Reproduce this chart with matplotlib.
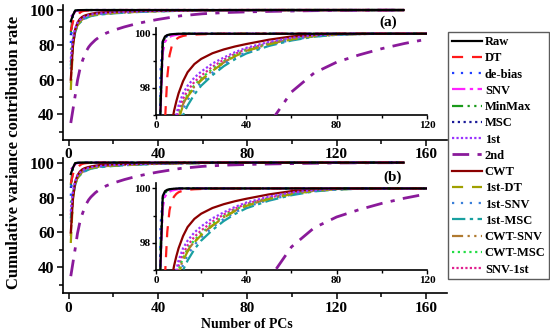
import matplotlib
matplotlib.use('Agg')
import matplotlib.pyplot as plt
from matplotlib.ticker import MultipleLocator

plt.rcParams['font.family'] = ['Liberation Serif', 'DejaVu Serif']
plt.rcParams['font.weight'] = 'bold'

# number of PCs at which the cumulative rate was read
pcs = [1, 2, 3, 4, 5, 6, 7, 8, 9, 10, 12, 14, 17, 20, 25, 30, 35, 40, 50, 60, 70, 80, 90, 100, 110, 120, 135, 150]

raw     = [93.5, 97.2, 99.72, 99.9, 99.95, 99.97, 99.98, 99.99, 99.99, 100,
           100, 100, 100, 100, 100, 100, 100, 100, 100, 100, 100, 100, 100, 100, 100, 100, 100, 100]
dt      = [88.0, 93.5, 96.2, 96.8, 98.4, 99.2, 99.55, 99.7, 99.8, 99.86,
           99.92, 99.95, 99.97, 99.98, 99.99, 100, 100, 100, 100, 100, 100, 100, 100, 100, 100, 100, 100, 100]
debias  = [81.0, 98.6, 99.7, 99.88, 99.94, 99.97, 99.98, 99.99, 99.99, 100,
           100, 100, 100, 100, 100, 100, 100, 100, 100, 100, 100, 100, 100, 100, 100, 100, 100, 100]
snv     = [96.2, 97.1, 99.3, 99.7, 99.82, 99.88, 99.92, 99.94, 99.96, 99.97,
           99.98, 99.99, 100, 100, 100, 100, 100, 100, 100, 100, 100, 100, 100, 100, 100, 100, 100, 100]
minmax  = [87.0, 97.8, 99.65, 99.86, 99.93, 99.96, 99.97, 99.98, 99.99, 99.99,
           100, 100, 100, 100, 100, 100, 100, 100, 100, 100, 100, 100, 100, 100, 100, 100, 100, 100]
msc     = [85.5, 97.5, 99.6, 99.84, 99.92, 99.96, 99.97, 99.98, 99.99, 99.99,
           100, 100, 100, 100, 100, 100, 100, 100, 100, 100, 100, 100, 100, 100, 100, 100, 100, 100]
d1      = [72.0, 84.0, 89.5, 92.5, 94.2, 95.3, 96.1, 96.6, 97.0, 97.35,
           97.8, 98.08, 98.38, 98.6, 98.9, 99.12, 99.32, 99.48, 99.7, 99.85, 99.94, 99.98, 99.99, 100, 100, 100, 100, 100]
d2      = [35.0, 43.0, 51.0, 59.5, 65.5, 70.0, 73.5, 76.5, 78.7, 80.3,
           82.8, 84.7, 86.8, 88.3, 90.3, 92.0, 93.4, 94.6, 96.65, 97.85, 98.55, 98.95, 99.22, 99.45, 99.64, 99.8, 99.92, 99.97]
cwt     = [60.0, 80.0, 89.0, 92.8, 94.8, 96.0, 96.7, 97.15, 97.5, 97.8,
           98.25, 98.58, 98.88, 99.07, 99.28, 99.42, 99.53, 99.62, 99.78, 99.9, 99.97, 100, 100, 100, 100, 100, 100, 100]
d1_dt   = [54.0, 80.0, 88.0, 91.3, 93.1, 94.3, 95.2, 95.9, 96.45, 96.85,
           97.35, 97.68, 98.02, 98.28, 98.63, 98.93, 99.17, 99.36, 99.61, 99.79, 99.91, 99.97, 99.99, 100, 100, 100, 100, 100]
d1_snv  = [66.0, 81.0, 87.8, 91.0, 92.9, 94.1, 95.0, 95.7, 96.25, 96.7,
           97.2, 97.55, 97.92, 98.2, 98.56, 98.88, 99.12, 99.32, 99.58, 99.77, 99.9, 99.96, 99.99, 100, 100, 100, 100, 100]
d1_msc  = [68.0, 81.0, 87.5, 90.7, 92.6, 93.8, 94.7, 95.4, 96.0, 96.5,
           97.0, 97.35, 97.76, 98.08, 98.47, 98.8, 99.06, 99.27, 99.55, 99.75, 99.89, 99.96, 99.99, 100, 100, 100, 100, 100]
cwt_snv = [58.0, 80.0, 88.0, 91.4, 93.2, 94.4, 95.3, 95.95, 96.5, 96.9,
           97.4, 97.72, 98.05, 98.3, 98.64, 98.94, 99.18, 99.37, 99.62, 99.8, 99.92, 99.97, 99.99, 100, 100, 100, 100, 100]
cwt_msc = [77.0, 83.0, 88.6, 91.6, 93.4, 94.6, 95.5, 96.1, 96.6, 97.0,
           97.45, 97.77, 98.1, 98.35, 98.7, 98.98, 99.22, 99.4, 99.64, 99.81, 99.92, 99.97, 99.99, 100, 100, 100, 100, 100]
snv_d1  = [70.0, 83.0, 89.0, 92.0, 93.8, 94.9, 95.75, 96.3, 96.75, 97.15,
           97.6, 97.9, 98.22, 98.45, 98.78, 99.04, 99.26, 99.43, 99.66, 99.83, 99.93, 99.98, 99.99, 100, 100, 100, 100, 100]

labels = ['Raw', 'DT', 'de-bias', 'SNV', 'MinMax', 'MSC', '1st', '2nd', 'CWT',
          '1st-DT', '1st-SNV', '1st-MSC', 'CWT-SNV', 'CWT-MSC', 'SNV-1st']
series = [raw, dt, debias, snv, minmax, msc, d1, d2, cwt,
          d1_dt, d1_snv, d1_msc, cwt_snv, cwt_msc, snv_d1]

styles = [
    dict(color='black', ls='-', lw=1.6),
    dict(color='#ff1a1a', ls=(0, (5, 4)), lw=1.6),
    dict(color='#1f3fff', ls=(0, (1, 3)), lw=1.6),
    dict(color='#ff22ff', ls=(0, (6, 2, 1.5, 2)), lw=1.6),
    dict(color='#1a9a1a', ls=(0, (5, 2, 1, 2, 1, 2)), lw=1.6),
    dict(color='#1a1a99', ls=(0, (1, 1.6)), lw=1.6),
    dict(color='#9a33ff', ls=(0, (1, 1)), lw=1.6),
    dict(color='#8a1a9a', ls=(0, (6, 3, 1.5, 3)), lw=2.0),
    dict(color='#8b0000', ls='-', lw=1.6),
    dict(color='#a0a000', ls=(0, (5, 4)), lw=1.6),
    dict(color='#3a7fd9', ls=(0, (1, 3)), lw=1.6),
    dict(color='#19a0a0', ls=(0, (6, 2, 1.5, 2)), lw=1.6),
    dict(color='#b07a30', ls=(0, (5, 2, 1, 2, 1, 2)), lw=1.6),
    dict(color='#22dd44', ls=(0, (1, 1.6)), lw=1.6),
    dict(color='#e0208f', ls=(0, (1, 1)), lw=1.6),
]

fig = plt.figure(figsize=(5.5, 3.36), dpi=100)


def style_axes(ax, inset=False):
    for s in ['top', 'right']:
        ax.spines[s].set_visible(False)
    for s in ['left', 'bottom']:
        ax.spines[s].set_linewidth(1.2)
    ax.xaxis.set_major_locator(MultipleLocator(40))
    ax.xaxis.set_minor_locator(MultipleLocator(20))
    if inset:
        ax.yaxis.set_major_locator(MultipleLocator(2))
        ax.yaxis.set_minor_locator(MultipleLocator(1))
        ax.tick_params(which='major', length=3, width=1, labelsize=8, pad=1)
        ax.tick_params(which='minor', length=2, width=1)
    else:
        ax.yaxis.set_major_locator(MultipleLocator(20))
        ax.yaxis.set_minor_locator(MultipleLocator(10))
        ax.tick_params(which='major', length=4, width=1.1, pad=2)
        ax.tick_params(which='minor', length=3, width=1.1)
        ax.tick_params(axis='x', labelsize=11)
        ax.tick_params(axis='y', labelsize=12)


main_pos = [[0.1145, 0.5833, 0.698, 0.4018], [0.1145, 0.1271, 0.698, 0.404]]
inset_pos = [[0.2836, 0.6577, 0.4927, 0.258], [0.2836, 0.1964, 0.4927, 0.259]]
panel_txt = [('(a)', 0.705, 0.935), ('(b)', 0.713, 0.473)]

handles = []
for p in range(2):
    ax = fig.add_axes(main_pos[p])
    ins = fig.add_axes(inset_pos[p])
    for k, (y, st) in enumerate(zip(series, styles)):
        h, = ax.plot(pcs, y, label=labels[k], zorder=20 - k, **st)
        ins.plot(pcs, y, zorder=20 - k, **st)
        if p == 0:
            handles.append(h)
    ax.set_xlim(-2.5, 169.4)
    ax.set_ylim(25.2, 102.9)
    ins.set_xlim(0, 120)
    ins.set_ylim(97.0, 100.2)
    style_axes(ax)
    style_axes(ins, inset=True)
    fig.text(panel_txt[p][1], panel_txt[p][2], panel_txt[p][0], fontsize=11,
             ha='center', va='center')

fig.legend(handles=handles, loc='upper left', bbox_to_anchor=(0.8145, 0.904),
           fontsize=9, frameon=True, fancybox=False, edgecolor='#333333',
           handlelength=2.4, handletextpad=0.25, labelspacing=0.34,
           borderpad=0.3, borderaxespad=0)

fig.text(0.025, 0.546, 'Cumulative variance contribution rate', rotation=90,
         fontsize=12, ha='center', va='center')
fig.text(0.449, 0.033, 'Number of PCs', fontsize=10, ha='center', va='center')

fig.savefig('out.png', dpi=100)
